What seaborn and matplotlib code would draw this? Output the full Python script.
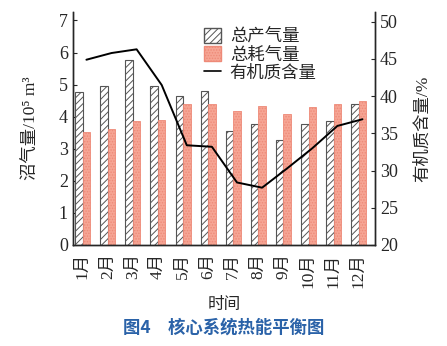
import numpy as np
import pandas as pd
import matplotlib
matplotlib.use("Agg")
import matplotlib.pyplot as plt
import seaborn as sns
from matplotlib.patches import Patch
from matplotlib.lines import Line2D

months = ["1月", "2月", "3月", "4月", "5月", "6月", "7月", "8月", "9月", "10月", "11月", "12月"]
gas_produced = [4.78, 4.95, 5.78, 4.95, 4.66, 4.81, 3.55, 3.77, 3.26, 3.78, 3.85, 4.41]
gas_consumed = [3.51, 3.61, 3.87, 3.89, 4.39, 4.41, 4.17, 4.33, 4.09, 4.29, 4.39, 4.49]
organic_pct = [44.9, 45.8, 46.3, 41.5, 33.4, 33.2, 28.4, 27.7, 30.3, 33.0, 36.0, 36.9]
series_names = ["总产气量", "总耗气量", "有机质含量"]

sns.set_style("ticks")
FAM = ['Liberation Serif', 'DejaVu Serif', 'Noto Sans CJK SC']
plt.rcParams['font.family'] = FAM
plt.rcParams['hatch.linewidth'] = 0.7

df = pd.DataFrame({
    "月份": months * 2,
    "值": gas_produced + gas_consumed,
    "类别": [series_names[0]] * 12 + [series_names[1]] * 12,
})

fig = plt.figure(figsize=(4.47, 3.46), dpi=100)
ax = fig.add_axes([0.163, 0.292, 0.676, 0.673])

sns.barplot(data=df, x="月份", y="值", hue="类别", order=months,
            hue_order=series_names[:2], width=0.6, ax=ax, legend=False,
            saturation=1)

n = len(months)
for i, p in enumerate(ax.patches[:2 * n]):
    if i < n:
        p.set_facecolor("white")
        p.set_edgecolor("#555555")
        p.set_hatch("/////")
        p.set_linewidth(0.8)
    else:
        p.set_facecolor("#f6a594")
        p.set_edgecolor("#ee8a78")
        p.set_hatch("......")
        p.set_linewidth(0.6)

ax.set_xlim(-0.39, n - 1 + 0.65)
ax.set_ylim(0, 7.26)
ax.set_yticks(range(0, 8))
ax.set_xlabel("时间", fontsize=12, labelpad=6)
ax.set_ylabel("沼气量/10\u2075 m\u00b3", fontsize=12.5, labelpad=14)
ax.tick_params(axis='x', rotation=90, labelsize=12.5, length=0, pad=6)
ax.tick_params(axis='y', labelsize=13, direction='in', length=3)

ax2 = ax.twinx()
xpos = np.arange(n) + 0.15
sns.lineplot(x=xpos, y=organic_pct, ax=ax2, color="black", linewidth=1.4)
ax2.set_ylim(20, 51.3)
ax2.set_yticks(range(20, 51, 5))
ax2.set_ylabel("有机质含量/%", fontsize=12.5, labelpad=12)
ax2.tick_params(axis='y', labelsize=13, direction='in', length=3)
ax2.set_xlim(-0.39, n - 1 + 0.65)

for a in (ax, ax2):
    for s in a.spines.values():
        s.set_linewidth(1.0)
    a.spines['top'].set_visible(False)

handles = [
    Patch(facecolor="white", edgecolor="#555555", hatch="/////", label=series_names[0]),
    Patch(facecolor="#f6a594", edgecolor="#ee8a78", hatch="......", label=series_names[1]),
    Line2D([0], [0], color="black", linewidth=1.2, label=series_names[2]),
]
ax2.legend(handles=handles, loc="upper left", bbox_to_anchor=(0.41, 0.96),
           frameon=False, fontsize=12.5, handlelength=1.0, handleheight=0.9,
           labelspacing=0.05, handletextpad=0.5, borderaxespad=0)

fig.text(0.5, 0.052, "图4　核心系统热能平衡图", ha="center", va="center",
         fontsize=12.5, fontweight="bold", color="#2a62a8",
         family=['Noto Sans CJK SC', 'Liberation Serif'])

fig.savefig("out.png", dpi=100)
